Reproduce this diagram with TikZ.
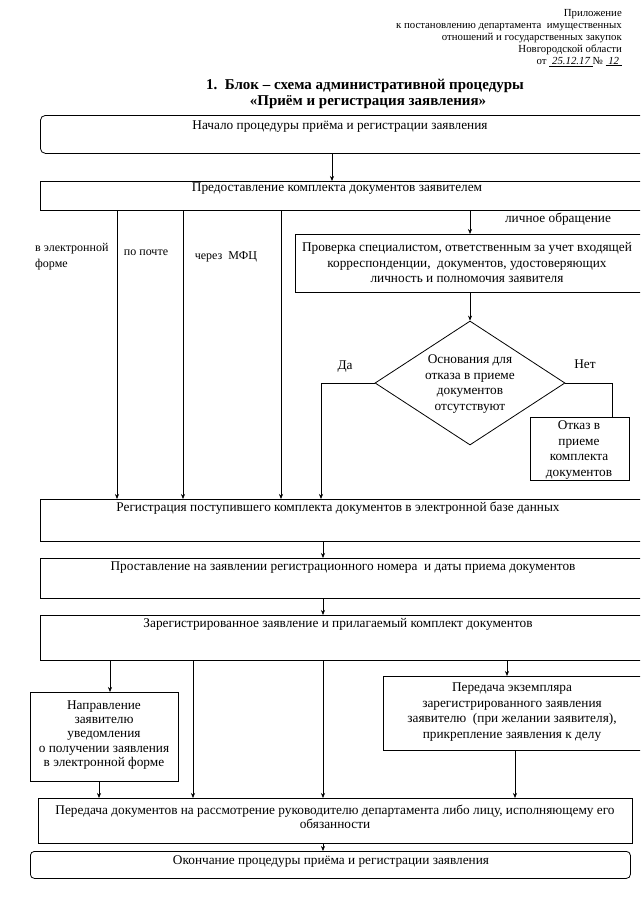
\documentclass[tikz,border=0pt]{standalone}
\usepackage{fontspec}
\setmainfont{Liberation Serif}
\usetikzlibrary{shapes.geometric,arrows.meta}
\begin{document}
\begin{tikzpicture}[x=1pt,y=-1pt,
  box/.style={draw,line width=0.8pt,rectangle,inner sep=0pt,anchor=north west},
  txt/.style={font=\fontsize{13.3}{15.5}\selectfont,align=center,inner sep=0pt},
  tight/.style={font=\fontsize{13.3}{14.2}\selectfont},
  small/.style={font=\fontsize{12}{16}\selectfont},
  hdr/.style={font=\fontsize{10.8}{12}\selectfont,align=right,inner sep=0pt},
  ttl/.style={font=\bfseries\fontsize{15}{17}\selectfont,inner sep=0pt},
  arr/.style={line width=0.6pt,-{Stealth[length=5pt,width=4pt]}},
  ln/.style={line width=0.6pt}]
\useasboundingbox (0,0) rectangle (640,905);
\clip (0,0) rectangle (640,905);
\fill[white] (0,0) rectangle (640,905);
% header
\node[hdr,anchor=north east] (hd) at (622,9) {Приложение\\к постановлению департамента\ \ имущественных\\отношений и государственных закупок\\Новгородской области\\от \underline{\itshape\ 25.12.17\ }№ \underline{\itshape\ 12\ }};
% title
\node[ttl] (ti1) at (365,86) {1.\ \ Блок – схема административной процедуры};
\node[ttl] (ti2) at (368,102) {«Приём и регистрация заявления»};
% column coordinates
\coordinate (xA) at (332,0);
\coordinate (xE) at (117,0);
\coordinate (xP) at (183,0);
\coordinate (xM) at (281,0);
\coordinate (xL) at (470,0);
\coordinate (xD) at (321,0);
\coordinate (xN) at (612,0);
\coordinate (xR) at (323,0);
\coordinate (xa) at (110,0);
\coordinate (xb) at (193,0);
\coordinate (xc) at (323,0);
\coordinate (xd) at (507,0);
\coordinate (xe) at (99,0);
\coordinate (xf) at (515,0);
% boxes
\node[box,rounded corners=5pt,minimum width=610,minimum height=38] (b1) at (40,115) {};
\node[txt] (t1) at (340,127) {Начало процедуры приёма и регистрации заявления};
\node[box,minimum width=602,minimum height=29] (b2) at (40,181) {};
\node[txt] (t2) at (337,189) {Предоставление комплекта документов заявителем};
\node[box,minimum width=350,minimum height=58] (chk) at (295,234) {};
\node[txt] (tchk) at (467,263) {Проверка специалистом, ответственным за учет входящей\\корреспонденции,\ \ документов, удостоверяющих\\личность и полномочия заявителя};
\node[draw,diamond,line width=0.8pt,minimum width=190,minimum height=124,inner sep=0pt] (dia) at (470,383) {};
\node[txt] (tdia) at (470,384) {Основания для\\отказа в приеме\\документов\\отсутствуют};
\node[box,minimum width=99,minimum height=63] (otk) at (530,417) {};
\node[txt] (totk) at (579,450) {Отказ в\\приеме\\комплекта\\документов};
\node[box,minimum width=602,minimum height=42] (reg) at (40,499) {};
\node[txt] (treg) at (338,508) {Регистрация поступившего комплекта документов в электронной базе данных};
\node[box,minimum width=602,minimum height=40] (num) at (40,558) {};
\node[txt] (tnum) at (343,568) {Проставление на заявлении регистрационного номера\ \ и даты приема документов};
\node[box,minimum width=602,minimum height=45] (zar) at (40,615) {};
\node[txt] (tzar) at (338,624) {Зарегистрированное заявление и прилагаемый комплект документов};
\node[box,minimum width=148,minimum height=89] (nap) at (30,692) {};
\node[txt,tight] (tnap) at (104,735) {Направление\\заявителю\\уведомления\\о получении заявления\\в электронной форме};
\node[box,minimum width=262,minimum height=74] (per) at (383,676) {};
\node[txt] (tper) at (512,712) {Передача экземпляра\\зарегистрированного заявления\\заявителю\ \ (при желании заявителя),\\прикрепление заявления к делу};
\node[box,minimum width=594,minimum height=45] (pdk) at (38,798) {};
\node[txt,tight] (tpdk) at (335,817) {Передача документов на рассмотрение руководителю департамента либо лицу, исполняющему его\\обязанности};
\node[box,rounded corners=4pt,minimum width=600,minimum height=27] (end) at (30,851) {};
\node[txt] (tend) at (331,862) {Окончание процедуры приёма и регистрации заявления};
% labels
\node[txt,small,align=left,anchor=west] (le) at (35,257) {в электронной\\форме};
\node[txt,small] (lp) at (146,253) {по почте};
\node[txt,small] (lm) at (226,257) {через\ \ МФЦ};
\node[txt] (ll) at (558,219) {личное обращение};
\node[txt] (lda) at (345,367) {Да};
\node[txt] (lnet) at (585,364) {Нет};
% connectors
\draw[arr] (b1.south -| xA) -- (b2.north -| xA);
\draw[arr] (b2.south -| xE) -- (reg.north -| xE);
\draw[arr] (b2.south -| xP) -- (reg.north -| xP);
\draw[arr] (b2.south -| xM) -- (reg.north -| xM);
\draw[arr] (b2.south -| xL) -- (chk.north -| xL);
\draw[arr] (chk.south -| xL) -- (dia.north);
\draw[arr] (dia.west) -| (reg.north -| xD);
\draw[ln] (dia.east) -| (otk.north -| xN);
\draw[arr] (reg.south -| xR) -- (num.north -| xR);
\draw[arr] (num.south -| xR) -- (zar.north -| xR);
\draw[arr] (zar.south -| xa) -- (nap.north -| xa);
\draw[arr] (zar.south -| xb) -- (pdk.north -| xb);
\draw[arr] (zar.south -| xc) -- (pdk.north -| xc);
\draw[arr] (zar.south -| xd) -- (per.north -| xd);
\draw[arr] (nap.south -| xe) -- (pdk.north -| xe);
\draw[arr] (per.south -| xf) -- (pdk.north -| xf);
\draw[arr] (pdk.south -| xc) -- (end.north -| xc);
\end{tikzpicture}
\end{document}
